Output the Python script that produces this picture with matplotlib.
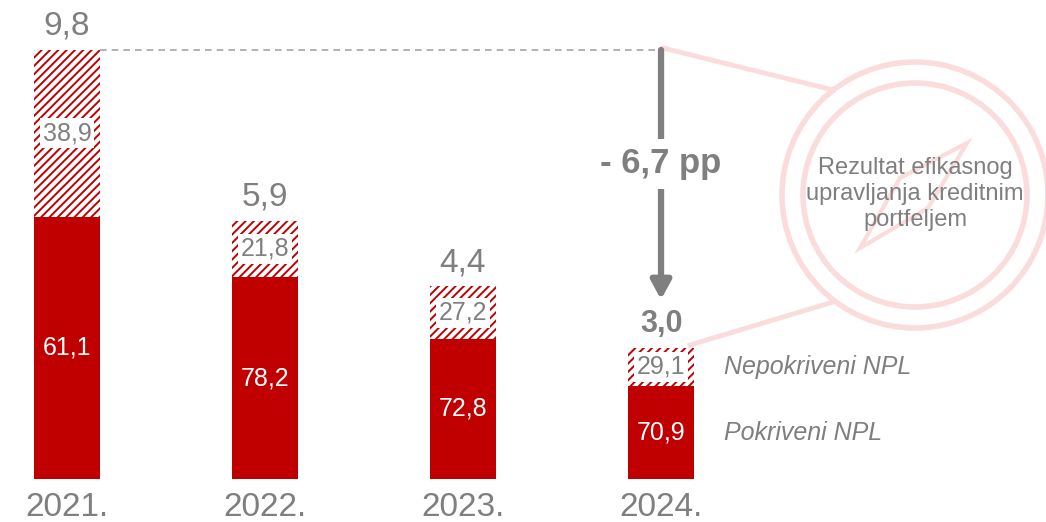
import matplotlib.pyplot as plt
from matplotlib.patches import Circle, Polygon

plt.rcParams['font.family'] = ['Liberation Sans', 'DejaVu Sans']
plt.rcParams['hatch.linewidth'] = 1.4

# data
years = ["2021.", "2022.", "2023.", "2024."]
npl_total = [9.8, 5.9, 4.4, 3.0]
covered = [61.1, 78.2, 72.8, 70.9]
uncovered = [38.9, 21.8, 27.2, 29.1]
change_label = "- 6,7 pp"
circle_text = "Rezultat efikasnog\nupravljanja kreditnim\nportfeljem"

red = "#C00000"
grey = "#7F7F7F"
pink = "#FBDCDC"

def fmt(v):
    return f"{v:.1f}".replace(".", ",")

fig = plt.figure(figsize=(10.46, 5.22), dpi=100)
ax = fig.add_axes([0, 0, 1, 1])
ax.set_xlim(-0.338, 4.944)
ax.set_ylim(-0.98, 10.94)
ax.axis("off")

# overlay in pixel coords for the decorative circle
deco = fig.add_axes([0, 0, 1, 1], zorder=0)
deco.set_xlim(0, 1046)
deco.set_ylim(522, 0)
deco.axis("off")
deco.add_patch(Circle((915, 195), 133, fill=False, ec=pink, lw=4))
deco.add_patch(Circle((915, 195), 112, fill=False, ec=pink, lw=4))
deco.add_patch(Polygon([(967, 143), (900, 178), (860, 248), (928, 208)],
                       closed=True, fill=False, ec=pink, lw=3))
deco.plot([663, 833], [48, 90], color=pink, lw=3.5)
deco.plot([690, 833], [345, 302], color=pink, lw=3.5)
deco.text(915, 194, circle_text, ha="center", va="center", fontsize=17,
          color=grey, linespacing=1.25)
ax.set_zorder(1)
ax.patch.set_visible(False)

width = 0.333
x = list(range(len(years)))
red_top = [t * c / 100 for t, c in zip(npl_total, covered)]

ax.bar(x, red_top, width, color=red, lw=0)
ax.bar(x, [t - r for t, r in zip(npl_total, red_top)], width, bottom=red_top,
       color="white", edgecolor=red, hatch="////", lw=0)

for i in x:
    ax.text(i, red_top[i] / 2, fmt(covered[i]), ha="center", va="center",
            fontsize=18, color="white")
    ax.text(i, (red_top[i] + npl_total[i]) / 2, fmt(uncovered[i]), ha="center",
            va="center", fontsize=18, color=grey,
            bbox=dict(boxstyle="square,pad=0.12", fc="white", ec="none"))
    last = i == len(years) - 1
    ax.text(i, npl_total[i] + 0.35, fmt(npl_total[i]), ha="center", va="baseline",
            fontsize=22 if last else 24, color=grey,
            fontweight="bold" if last else "normal")
    ax.text(i, -0.85, years[i], ha="center", va="baseline", fontsize=24, color=grey)

# legend labels next to the last bar
ax.text(3.32, (red_top[-1] + npl_total[-1]) / 2, "Nepokriveni NPL", ha="left",
        va="center", fontsize=18, color=grey, style="italic")
ax.text(3.32, red_top[-1] / 2, "Pokriveni NPL", ha="left", va="center",
        fontsize=18, color=grey, style="italic")

# dashed reference line and change arrow
ax.plot([width / 2, 3], [npl_total[0], npl_total[0]], ls=(0, (4, 3)), color="#A6A6A6", lw=1.2)
arrow_end = npl_total[-1] + 1.1
ax.annotate("", xy=(3, arrow_end), xytext=(3, npl_total[0]),
            arrowprops=dict(arrowstyle="-|>,head_width=0.6,head_length=1.1",
                            color=grey, lw=4.5, shrinkA=0, shrinkB=0))
ax.text(3, 7.2, change_label, ha="center", va="center", fontsize=25,
        fontweight="bold", color=grey,
        bbox=dict(boxstyle="square,pad=0.25", fc="white", ec="none"))

fig.savefig("out.png", dpi=100)
